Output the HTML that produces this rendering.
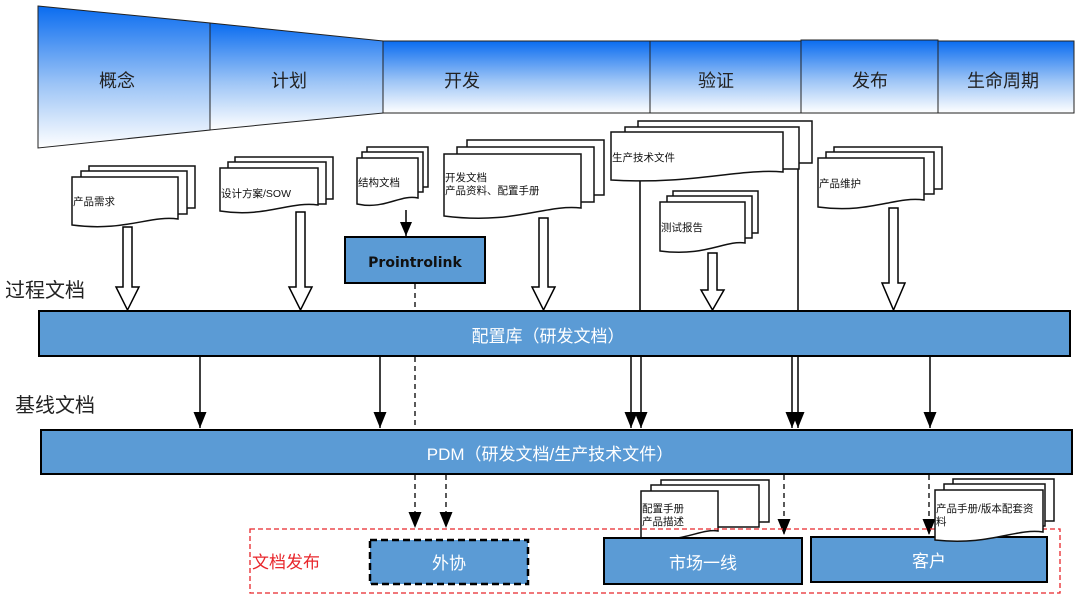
<!DOCTYPE html>
<html><head><meta charset="utf-8"><style>
html,body{margin:0;padding:0;background:#fff;}
svg{display:block;font-family:"Liberation Sans","Noto Sans CJK SC",sans-serif;}
</style></head><body>
<svg width="1080" height="601" viewBox="0 0 1080 601" xmlns="http://www.w3.org/2000/svg">
<defs>
<linearGradient id="g" x1="0" y1="0" x2="0" y2="1">
<stop offset="0" stop-color="#0a6cf0"/><stop offset="0.55" stop-color="#9cc4f6"/><stop offset="1" stop-color="#ffffff"/>
</linearGradient>
<marker id="ah" markerWidth="14" markerHeight="12" refX="14" refY="6" orient="auto" markerUnits="userSpaceOnUse" viewBox="0 0 14 12"><path d="M0,0 L14,6 L0,12 Z" fill="#000"/></marker>
<marker id="ah2" markerWidth="16" markerHeight="13" refX="16" refY="6.5" orient="auto" markerUnits="userSpaceOnUse" viewBox="0 0 16 13"><path d="M0,0 L16,6.5 L0,13 Z" fill="#000"/></marker>
</defs>

<g stroke="#222" stroke-width="1">
<path d="M38,6 L210,23 L210,130 L38,148 Z" fill="url(#g)"/>
<path d="M210,23 L383,41 L383,113 L210,130 Z" fill="url(#g)"/>
<rect x="383" y="41" width="267" height="72" fill="url(#g)"/>
<rect x="650" y="41" width="151" height="72" fill="url(#g)"/>
<rect x="801" y="40" width="137" height="73" fill="url(#g)"/>
<rect x="938" y="41" width="136" height="72" fill="url(#g)"/>
</g>
<g font-size="18" fill="#222" text-anchor="middle">
<text x="117" y="87">概念</text><text x="289" y="87">计划</text><text x="462" y="87">开发</text>
<text x="716" y="87">验证</text><text x="870" y="87">发布</text><text x="1003" y="87">生命周期</text>
</g>

<g stroke="#000" stroke-width="1.5">
<line x1="640" y1="175" x2="640" y2="310"/><line x1="798" y1="165" x2="798" y2="310"/>
</g>

<g fill="#fff" stroke="#000" stroke-width="1.5">
<path d="M123,227 h9 v60 h7 l-11.5,23 l-11.5,-23 h7 z"/>
<path d="M296,212 h9 v75 h7 l-11.5,23 l-11.5,-23 h7 z"/>
<path d="M539,218 h9 v69 h7 l-11.5,23 l-11.5,-23 h7 z"/>
<path d="M708,253 h9 v37 h7 l-11.5,20 l-11.5,-20 h7 z"/>
<path d="M889,208 h9 v75 h7 l-11.5,27 l-11.5,-27 h7 z"/>
</g>

<g fill="#fff" stroke="#111" stroke-width="1.5">
<rect x="89" y="166" width="106" height="42"/><rect x="81" y="171" width="106" height="43"/>
<path d="M72,177 H178 V219 C150,215 125,232 72,225 Z"/>
<rect x="235" y="157" width="98" height="42"/><rect x="228" y="162" width="98" height="42"/>
<path d="M220,168 H318 V205 C290,201 265,218 220,211 Z"/>
<rect x="367" y="147" width="61" height="40"/><rect x="362" y="152" width="61" height="40"/>
<path d="M357,158 H418 V198 C400,194 385,210 357,204 Z"/>
<rect x="467" y="140" width="137" height="55"/><rect x="457" y="147" width="137" height="55"/>
<path d="M444,154 H581 V208 C545,204 515,225 444,216 Z"/>
<rect x="638" y="121" width="174" height="42"/><rect x="625" y="127" width="174" height="42"/>
<path d="M611,132 H783 V172 C740,168 690,185 611,180 Z"/>
<rect x="673" y="191" width="85" height="42"/><rect x="667" y="196" width="85" height="42"/>
<path d="M660,202 H745 V243 C725,240 705,257 660,251 Z"/>
<rect x="834" y="147" width="108" height="42"/><rect x="826" y="152" width="108" height="42"/>
<path d="M818,158 H924 V200 C895,196 870,214 818,207 Z"/>
<rect x="661" y="480" width="108" height="42"/><rect x="651" y="485" width="108" height="42"/>
<path d="M641,491 H718 V531 C700,528 680,545 641,538 Z"/>
</g>

<rect x="345" y="237" width="140" height="46" fill="#5b9bd5" stroke="#000" stroke-width="2"/>
<text x="415" y="267" font-size="14" font-weight="bold" fill="#111" text-anchor="middle" style="font-family:'DejaVu Sans',sans-serif">Prointrolink</text>
<line x1="406" y1="210" x2="406" y2="236" stroke="#000" stroke-width="1.5" marker-end="url(#ah)"/>

<g font-size="10.5" fill="#111">
<text x="73" y="205">产品需求</text>
<text x="221" y="197">设计方案/SOW</text>
<text x="358" y="186">结构文档</text>
<text x="445" y="181">开发文档</text><text x="445" y="194">产品资料、配置手册</text>
<text x="612" y="161">生产技术文件</text>
<text x="661" y="231">测试报告</text>
<text x="819" y="187">产品维护</text>
<text x="642" y="512">配置手册</text><text x="642" y="525">产品描述</text>
</g>

<rect x="39" y="311" width="1031" height="45" fill="#5b9bd5" stroke="#000" stroke-width="2"/>
<text x="548" y="342" font-size="17" fill="#fff" text-anchor="middle">配置库（研发文档）</text>
<rect x="41" y="430" width="1031" height="44" fill="#5b9bd5" stroke="#000" stroke-width="2"/>
<text x="550" y="460" font-size="17" fill="#fff" text-anchor="middle">PDM（研发文档/生产技术文件）</text>

<g font-size="20" fill="#222">
<text x="5" y="297">过程文档</text><text x="15" y="412">基线文档</text>
</g>

<g stroke="#000" stroke-width="1.5">
<line x1="200" y1="357" x2="200" y2="428" marker-end="url(#ah2)"/>
<line x1="380" y1="357" x2="380" y2="428" marker-end="url(#ah2)"/>
<line x1="631" y1="357" x2="631" y2="428" marker-end="url(#ah2)"/>
<line x1="641" y1="357" x2="641" y2="428" marker-end="url(#ah2)"/>
<line x1="792" y1="357" x2="792" y2="428" marker-end="url(#ah2)"/>
<line x1="798" y1="357" x2="798" y2="428" marker-end="url(#ah2)"/>
<line x1="930" y1="357" x2="930" y2="428" marker-end="url(#ah2)"/>
</g>

<g stroke="#000" stroke-width="1.3" stroke-dasharray="5,4">
<line x1="415" y1="284" x2="415" y2="310"/>
<line x1="415" y1="357" x2="415" y2="429"/>
<line x1="415" y1="475" x2="415" y2="528" marker-end="url(#ah2)"/>
<line x1="446" y1="475" x2="446" y2="528" marker-end="url(#ah2)"/>
<line x1="784" y1="475" x2="784" y2="535" marker-end="url(#ah2)"/>
<line x1="929" y1="475" x2="929" y2="535" marker-end="url(#ah2)"/>
</g>

<rect x="250" y="529" width="810" height="64" fill="none" stroke="#e8262b" stroke-width="1.3" stroke-dasharray="5,3"/>
<text x="252" y="568" font-size="17" fill="#e8262b">文档发布</text>
<rect x="370" y="540" width="158" height="44" fill="#5b9bd5" stroke="#000" stroke-width="2.5" stroke-dasharray="7,4"/>
<text x="449" y="569" font-size="17" fill="#fff" text-anchor="middle">外协</text>
<rect x="604" y="538" width="198" height="46" fill="#5b9bd5" stroke="#000" stroke-width="2"/>
<text x="703" y="569" font-size="17" fill="#fff" text-anchor="middle">市场一线</text>
<rect x="811" y="537" width="236" height="45" fill="#5b9bd5" stroke="#000" stroke-width="2"/>
<text x="929" y="567" font-size="17" fill="#fff" text-anchor="middle">客户</text>

<g fill="#fff" stroke="#111" stroke-width="1.5">
<rect x="953" y="479" width="101" height="42"/><rect x="944" y="484" width="101" height="42"/>
<path d="M935,490 H1043 V532 C1015,528 990,546 935,540 Z"/>
</g>
<g font-size="10.5" fill="#111"><text x="936" y="512">产品手册/版本配套资</text><text x="936" y="525">料</text></g>
</svg>
</body></html>
